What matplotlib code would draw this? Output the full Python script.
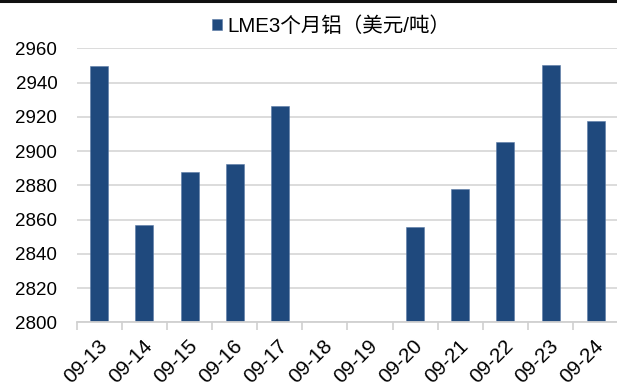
import matplotlib
matplotlib.use("Agg")
import matplotlib.pyplot as plt
from matplotlib.lines import Line2D
from matplotlib.ticker import FixedLocator
import matplotlib.transforms as mtransforms
import numpy as np

plt.rcParams['font.family'] = ['Liberation Sans', 'Noto Sans CJK SC', 'DejaVu Sans']

dates = ['09-13', '09-14', '09-15', '09-16', '09-17', '09-18', '09-19',
         '09-20', '09-21', '09-22', '09-23', '09-24']
values = [2949.7, 2856.7, 2887.6, 2892.4, 2926.5, np.nan, np.nan,
          2855.8, 2877.8, 2905.3, 2950.1, 2917.5]
series_name = 'LME3个月铝（美元/吨）'
y_ticks = [2800, 2820, 2840, 2860, 2880, 2900, 2920, 2940, 2960]

bar_color = '#1F497D'
grid_color = '#D9D9D9'

fig = plt.figure(figsize=(6.17, 3.90), dpi=100)
ax = fig.add_axes([76.7 / 617, 67.7 / 390, 541.6 / 617, 274 / 390])

x = np.arange(len(dates))
ax.bar(x, values, width=0.4, bottom=0, color=bar_color, edgecolor='#5B7BA6',
       linewidth=0.4, label=series_name, zorder=3)

ax.set_ylim(2800, 2960)
ax.set_xlim(-0.5, len(dates) - 0.5)
ax.set_yticks(y_ticks)
ax.set_yticklabels([str(v) for v in y_ticks])
ax.tick_params(axis='y', length=0, pad=14, labelsize=13.5, labelcolor='#000000')

ax.set_xticks(x)
ax.set_xticklabels(dates, rotation=45, ha='right', va='top', rotation_mode='anchor')
ax.tick_params(axis='x', which='major', length=0, pad=10, labelsize=14.8)
offset = mtransforms.ScaledTranslation(-2 / 100, 0, fig.dpi_scale_trans)
for lbl in ax.get_xticklabels():
    lbl.set_transform(lbl.get_transform() + offset)
ax.xaxis.set_minor_locator(FixedLocator(np.arange(-0.5, len(dates), 1.0)))
ax.tick_params(axis='x', which='minor', length=6, width=1.2, color='#D0D0D0')

ax.grid(axis='y', color=grid_color, linewidth=1.3, zorder=0)
ax.set_axisbelow(True)
for s in ['top', 'right', 'left']:
    ax.spines[s].set_visible(False)
ax.spines['bottom'].set_color('#D0D0D0')
ax.spines['bottom'].set_linewidth(1.3)
ax.spines['bottom'].set_zorder(4)

leg = fig.legend(loc='center', bbox_to_anchor=(331 / 617, 1 - 26 / 390),
                 frameon=False, fontsize=14.8, handlelength=0.5, handleheight=0.5,
                 handletextpad=0.25, borderpad=0, borderaxespad=0)

fig.add_artist(Line2D([0, 1], [1 - 1.2 / 390, 1 - 1.2 / 390], transform=fig.transFigure,
                      color='#111111', linewidth=2.2))

fig.savefig('out.png', dpi=100)
